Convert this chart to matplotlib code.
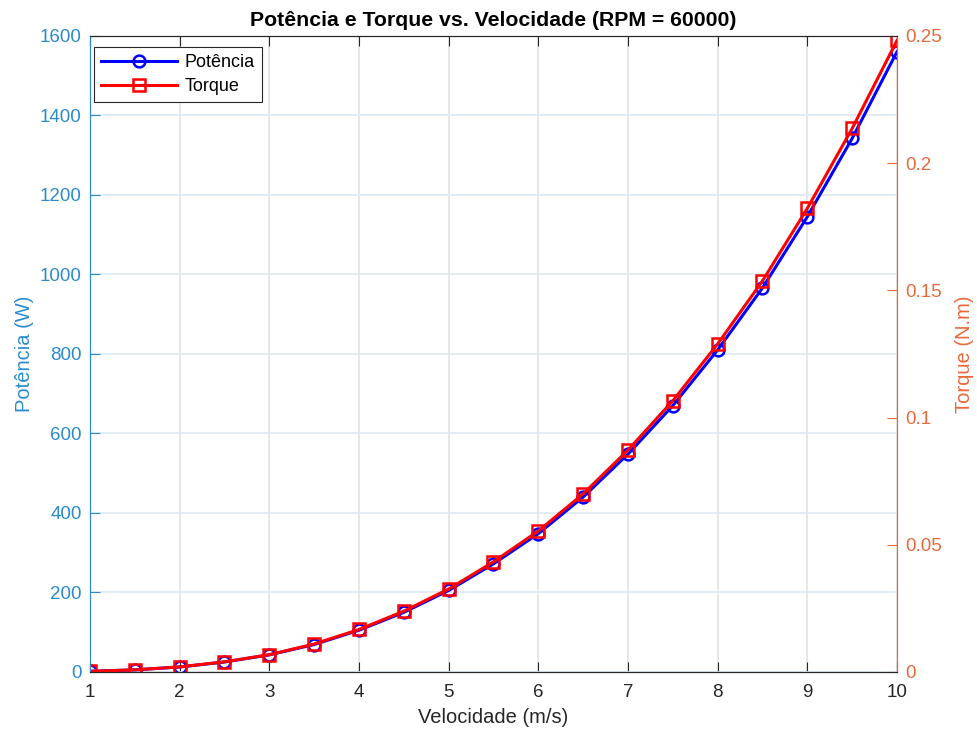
import matplotlib
matplotlib.use('Agg')
import matplotlib.pyplot as plt
import numpy as np

# velocidade (m/s), potencia (W), torque (N.m) a 60000 RPM
velocidade = [1, 1.5, 2, 2.5, 3, 3.5, 4, 4.5, 5, 5.5, 6, 6.5, 7, 7.5, 8, 8.5, 9, 9.5, 10]
potencia = [1.6, 5.3, 12.5, 25, 43, 69, 105, 150, 205, 272, 348, 440, 548, 670,
            810, 966, 1145, 1342, 1560]
torque = [0.00025, 0.00084, 0.0020, 0.0040, 0.0068, 0.0110, 0.0167, 0.0239, 0.0326,
          0.0433, 0.0554, 0.0700, 0.0872, 0.1066, 0.1289, 0.1537, 0.1822, 0.2136, 0.2482]

cor_esq = '#2b8bd0'
cor_dir = '#e8693a'

plt.rcParams['font.family'] = ['Liberation Sans', 'DejaVu Sans']
plt.rcParams['font.size'] = 13.5

fig = plt.figure(figsize=(9.77, 7.32), dpi=100)
ax1 = fig.add_axes([0.0921, 0.082, 0.826, 0.869])
ax2 = ax1.twinx()

l1, = ax1.plot(velocidade, potencia, '-o', color='blue', lw=2.2, ms=8.5,
               mfc='none', mew=1.8, label='Potência')
l2, = ax2.plot(velocidade, torque, '-s', color='red', lw=2.2, ms=8.5,
               mfc='none', mew=1.8, label='Torque')

ax1.set_xlim(1, 10)
ax1.set_ylim(0, 1600)
ax2.set_ylim(0, 0.25)
ax1.set_xticks(np.arange(1, 11))
ax1.set_yticks(np.arange(0, 1601, 200))
ax2.set_yticks([0, 0.05, 0.1, 0.15, 0.2, 0.25])
ax2.set_yticklabels(['0', '0.05', '0.1', '0.15', '0.2', '0.25'])

# grade: verticais cinza, horizontais azul claro
ax1.xaxis.grid(True, color='#e3e3e3', lw=1.2)
ax1.yaxis.grid(True, color='#dde9f4', lw=1.2)
ax1.set_axisbelow(True)

ax1.tick_params(axis='x', direction='in', top=True, colors='#262626', length=7, pad=9)
ax1.tick_params(axis='y', direction='in', colors=cor_esq, length=7, pad=6)
ax2.tick_params(axis='y', direction='in', colors=cor_dir, length=7, pad=6)
ax2.tick_params(axis='x', top=False, bottom=False)

for a in (ax1, ax2):
    a.spines['top'].set_color('#262626')
    a.spines['bottom'].set_color('#262626')
ax1.spines['left'].set_color(cor_esq)
ax2.spines['left'].set_color(cor_esq)
ax1.spines['right'].set_color(cor_dir)
ax2.spines['right'].set_color(cor_dir)

ax1.set_xlabel('Velocidade (m/s)', color='#262626', fontsize=14.5, labelpad=5)
ax1.set_ylabel('Potência (W)', color=cor_esq, fontsize=14.5, labelpad=4)
ax2.set_ylabel('Torque (N.m)', color=cor_dir, fontsize=14.5, rotation=90, labelpad=9)
ax1.set_title('Potência e Torque vs. Velocidade (RPM = 60000)', fontsize=15.3,
              fontweight='bold', pad=7)

leg = ax1.legend(handles=[l1, l2], loc='upper left', bbox_to_anchor=(-0.006, 0.997),
                 fancybox=False, edgecolor='#262626', framealpha=1, fontsize=13,
                 handlelength=4.2, borderpad=0.4, labelspacing=0.4, handletextpad=0.4)
leg.get_frame().set_linewidth(0.8)

fig.savefig('out.png', dpi=100)
